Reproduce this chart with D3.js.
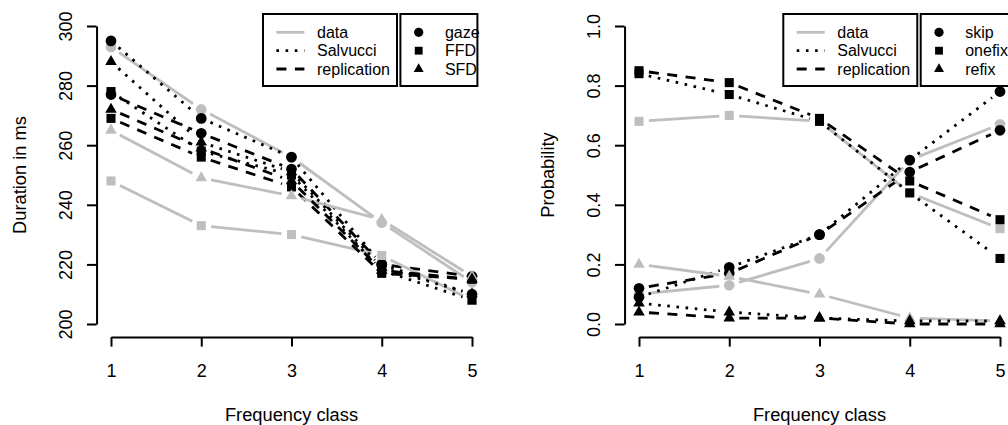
<!DOCTYPE html>
<html>
<head>
<meta charset="utf-8">
<script src="https://cdn.jsdelivr.net/npm/d3@7"></script>
<style>
  body { margin: 0; background: #fff; }
  text { font-family: "Liberation Sans", Arial, sans-serif; fill: #000; }
</style>
</head>
<body>
<svg id="chart" width="1008" height="425"></svg>
<script>
// frequency classes and axis ticks
const classes = [1, 2, 3, 4, 5];
const durationTicks = [200, 220, 240, 260, 280, 300];
const probTicks = [0, 0.2, 0.4, 0.6, 0.8, 1.0];

// left panel: durations in ms
const gazeData = [293, 272, 256, 234, 214];
const gazeSalvucci = [295, 269, 256, 220, 210];
const gazeReplication = [277, 264, 252, 220, 216];
const ffdData = [248, 233, 230, 223, 208];
const ffdSalvucci = [278, 258, 250, 218, 208];
const ffdReplication = [269, 256, 246, 217, 215];
const sfdData = [265, 249, 243, 235, 216];
const sfdSalvucci = [288, 261, 251, 219, 210];
const sfdReplication = [272, 259, 248, 218, 215];

// right panel: probabilities
const skipData = [0.10, 0.13, 0.22, 0.55, 0.67];
const skipSalvucci = [0.09, 0.19, 0.30, 0.55, 0.78];
const skipReplication = [0.12, 0.17, 0.30, 0.51, 0.65];
const onefixData = [0.68, 0.70, 0.68, 0.44, 0.32];
const onefixSalvucci = [0.84, 0.77, 0.68, 0.44, 0.22];
const onefixReplication = [0.85, 0.81, 0.69, 0.48, 0.35];
const refixData = [0.20, 0.16, 0.10, 0.02, 0.01];
const refixSalvucci = [0.07, 0.04, 0.02, 0.01, 0.01];
const refixReplication = [0.04, 0.02, 0.02, 0.00, 0.00];

const sourceNames = ['data', 'Salvucci', 'replication'];
const durationNames = ['gaze', 'FFD', 'SFD'];
const probNames = ['skip', 'onefix', 'refix'];

const svg = d3.select('#chart')
svg.append('rect').attr('width', 1008).attr('height', 425).attr('fill', '#fff')

const lineStyles = {
    data: { color: '#bebebe', dash: null },
    Salvucci: { color: '#000', dash: '2.6,6.6' },
    replication: { color: '#000', dash: '10,8.5' }
}
const shapes = [d3.symbolCircle, d3.symbolSquare, d3.symbolTriangle]
const shapeSizes = [90, 82, 58]

const drawPanel = (opts) => {
    const g = svg.append('g')
    const x = d3.scaleLinear().domain([1, 5]).range(opts.xRange)
    const y = d3.scaleLinear().domain(opts.yDomain).range([324, 26])
    const axisX = x(1) - 0.04 * (x(5) - x(1))
    const axisY = 337

    // y axis
    const yAxis = g.append('g')
        .attr('transform', `translate(${axisX},0)`)
        .call(d3.axisLeft(y).tickValues(opts.yTicks).tickFormat(opts.yFormat).tickSize(9.6).tickSizeOuter(0))
    yAxis.selectAll('text')
        .attr('x', null).attr('dy', null)
        .attr('text-anchor', 'middle')
        .attr('transform', 'translate(-25,0) rotate(-90)')
    // x axis
    const xAxis = g.append('g')
        .attr('transform', `translate(0,${axisY})`)
        .call(d3.axisBottom(x).tickValues(classes).tickFormat(d3.format('d')).tickSize(9.6).tickSizeOuter(0))
    xAxis.selectAll('text').attr('y', 39.7).attr('dy', null)
    g.selectAll('.domain, .tick line').attr('stroke', '#000').attr('stroke-width', 2)
    g.selectAll('.tick text').style('font-size', '18px').style('font-family', '"Liberation Sans", Arial, sans-serif')

    // axis titles
    g.append('text')
        .attr('x', (axisX + x(5) + 0.04 * (x(5) - x(1))) / 2).attr('y', 420.5)
        .attr('text-anchor', 'middle').style('font-size', '18.3px')
        .text('Frequency class')
    g.append('text')
        .attr('transform', `translate(${axisX - 71},${y.range()[0] / 2 + y.range()[1] / 2}) rotate(-90)`)
        .attr('text-anchor', 'middle').style('font-size', '18.3px')
        .text(opts.yTitle)

    // series: lines with gaps at the points (R type = "b")
    const gap = 10
    opts.series.forEach((s) => {
        const st = lineStyles[s.source]
        const pts = classes.map((c, i) => [x(c), y(s.values[i])])
        for (let i = 0; i < pts.length - 1; i++) {
            const [x0, y0] = pts[i]
            const [x1, y1] = pts[i + 1]
            const d = Math.hypot(x1 - x0, y1 - y0)
            if (d <= 2 * gap) continue
            const ux = (x1 - x0) / d, uy = (y1 - y0) / d
            g.append('path')
                .attr('d', d3.line()([[x0 + ux * gap, y0 + uy * gap], [x1 - ux * gap, y1 - uy * gap]]))
                .attr('fill', 'none')
                .attr('stroke', st.color)
                .attr('stroke-width', 2.8)
                .attr('stroke-dasharray', st.dash)
        }
        g.selectAll(null)
            .data(pts)
            .enter()
            .append('path')
            .attr('transform', (p) => `translate(${p[0]},${p[1]})`)
            .attr('d', d3.symbol().type(shapes[s.shape]).size(shapeSizes[s.shape]))
            .attr('fill', st.color)
    })

    // legend: line types
    const lx = opts.legendX
    const rowY = [32.3, 50.7, 69]
    g.append('rect').attr('x', lx).attr('y', 14).attr('width', 134).attr('height', 72)
        .attr('fill', '#fff').attr('stroke', '#000').attr('stroke-width', 2)
    sourceNames.forEach((name, i) => {
        const st = lineStyles[name]
        g.append('line')
            .attr('x1', lx + 13.4).attr('x2', lx + 41.4)
            .attr('y1', rowY[i]).attr('y2', rowY[i])
            .attr('stroke', st.color).attr('stroke-width', 2.8)
            .attr('stroke-dasharray', st.dash)
        g.append('text').attr('x', lx + 54).attr('y', rowY[i] + 5.7)
            .style('font-size', '16px').text(name)
    })
    // legend: symbols
    const sx = lx + 137.4
    g.append('rect').attr('x', sx).attr('y', 14).attr('width', opts.legend2Width).attr('height', 72)
        .attr('fill', '#fff').attr('stroke', '#000').attr('stroke-width', 2)
    opts.measureNames.forEach((name, i) => {
        g.append('path')
            .attr('transform', `translate(${sx + 18.3},${rowY[i]})`)
            .attr('d', d3.symbol().type(shapes[i]).size(shapeSizes[i] * 0.75))
            .attr('fill', '#000')
        g.append('text').attr('x', sx + 44.5).attr('y', rowY[i] + 5.7)
            .style('font-size', '16px').text(name)
    })
}

drawPanel({
    xRange: [111, 472],
    yDomain: [200, 300],
    yTicks: durationTicks,
    yFormat: d3.format('d'),
    yTitle: 'Duration in ms',
    legendX: 263,
    legend2Width: 77,
    measureNames: durationNames,
    series: [
        { source: 'data', shape: 0, values: gazeData },
        { source: 'Salvucci', shape: 0, values: gazeSalvucci },
        { source: 'replication', shape: 0, values: gazeReplication },
        { source: 'data', shape: 1, values: ffdData },
        { source: 'Salvucci', shape: 1, values: ffdSalvucci },
        { source: 'replication', shape: 1, values: ffdReplication },
        { source: 'data', shape: 2, values: sfdData },
        { source: 'Salvucci', shape: 2, values: sfdSalvucci },
        { source: 'replication', shape: 2, values: sfdReplication }
    ]
})

drawPanel({
    xRange: [639, 1000],
    yDomain: [0, 1],
    yTicks: probTicks,
    yFormat: d3.format('.1f'),
    yTitle: 'Probability',
    legendX: 783.3,
    legend2Width: 100,
    measureNames: probNames,
    series: [
        { source: 'data', shape: 0, values: skipData },
        { source: 'Salvucci', shape: 0, values: skipSalvucci },
        { source: 'replication', shape: 0, values: skipReplication },
        { source: 'data', shape: 1, values: onefixData },
        { source: 'Salvucci', shape: 1, values: onefixSalvucci },
        { source: 'replication', shape: 1, values: onefixReplication },
        { source: 'data', shape: 2, values: refixData },
        { source: 'Salvucci', shape: 2, values: refixSalvucci },
        { source: 'replication', shape: 2, values: refixReplication }
    ]
})
</script>
</body>
</html>
